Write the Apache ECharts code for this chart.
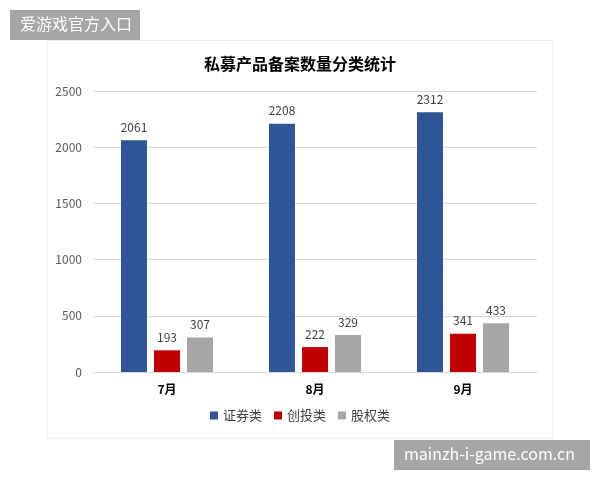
<!DOCTYPE html>
<html>
<head>
    <meta charset="UTF-8">
    <title>私募产品备案数量分类统计</title>
    <script src="https://cdn.jsdelivr.net/npm/echarts@6/dist/echarts.min.js"></script>
    <style>
        html, body { margin: 0; padding: 0; background: #fff; }
    </style>
</head>
<body>
    <div id="main" style="width: 600px; height: 480px;"></div>
    <script>
        // chart data
        var months = ['7月', '8月', '9月'];
        var seriesNames = ['证券类', '创投类', '股权类'];
        var securities = [2061, 2208, 2312];
        var ventures = [193, 222, 341];
        var equity = [307, 329, 433];
        var colors = ['#2F5597', '#C00000', '#A5A5A5'];

        var chart = echarts.init(document.getElementById('main'));
        var font = '"Noto Sans CJK SC", "Microsoft YaHei", sans-serif';

        function makeSeries(name, data, color) {
            return {
                name: name,
                type: 'bar',
                data: data,
                barWidth: 26,
                barGap: '27%',
                itemStyle: { color: color },
                label: {
                    show: true,
                    position: 'top',
                    distance: 7,
                    color: '#404040',
                    fontSize: 12,
                    fontFamily: font
                }
            };
        }

        var option = {
            backgroundColor: '#fff',
            textStyle: { fontFamily: font },
            title: {
                text: '私募产品备案数量分类统计',
                left: 'center',
                top: 51,
                textStyle: { fontSize: 16, fontWeight: 'bold', color: '#000', fontFamily: font }
            },
            legend: {
                bottom: 53,
                left: 'center',
                itemWidth: 8,
                itemHeight: 8,
                itemGap: 12,
                icon: 'rect',
                textStyle: { fontSize: 13, color: '#404040', fontFamily: font },
                data: seriesNames
            },
            grid: { left: 93, right: 63, top: 91, bottom: 108 },
            xAxis: {
                type: 'category',
                data: months,
                axisTick: { show: false },
                axisLine: { lineStyle: { color: '#d9d9d9' } },
                axisLabel: { margin: 11, fontSize: 12, fontWeight: 'bold', color: '#000' }
            },
            yAxis: {
                type: 'value',
                min: 0,
                max: 2500,
                interval: 500,
                axisLabel: {
                    fontSize: 12,
                    color: '#595959',
                    margin: 11,
                    formatter: function (v) { return String(v); }
                },
                splitLine: { lineStyle: { color: '#d9d9d9' } }
            },
            graphic: [
                {
                    type: 'rect',
                    shape: { x: 47.5, y: 40.5, width: 505, height: 398 },
                    style: { fill: 'none', stroke: '#ececec', lineWidth: 1 },
                    silent: true,
                    z: -1
                },
                {
                    type: 'group',
                    left: 10,
                    top: 10,
                    children: [
                        { type: 'rect', shape: { x: 0, y: 0, width: 130, height: 30 }, style: { fill: '#a6a6a6' } },
                        { type: 'text', x: 10, y: 6, style: { text: '爱游戏官方入口', fill: '#fff', fontSize: 16, fontFamily: font } }
                    ]
                },
                {
                    type: 'group',
                    left: 394,
                    top: 440,
                    children: [
                        { type: 'rect', shape: { x: 0, y: 0, width: 196, height: 30 }, style: { fill: '#a6a6a6' } },
                        { type: 'text', x: 10, y: 6, style: { text: 'mainzh-i-game.com.cn', fill: '#fff', fontSize: 16, fontFamily: font } }
                    ]
                }
            ],
            series: [
                makeSeries(seriesNames[0], securities, colors[0]),
                makeSeries(seriesNames[1], ventures, colors[1]),
                makeSeries(seriesNames[2], equity, colors[2])
            ]
        };
        chart.setOption(option);
    </script>
</body>
</html>
